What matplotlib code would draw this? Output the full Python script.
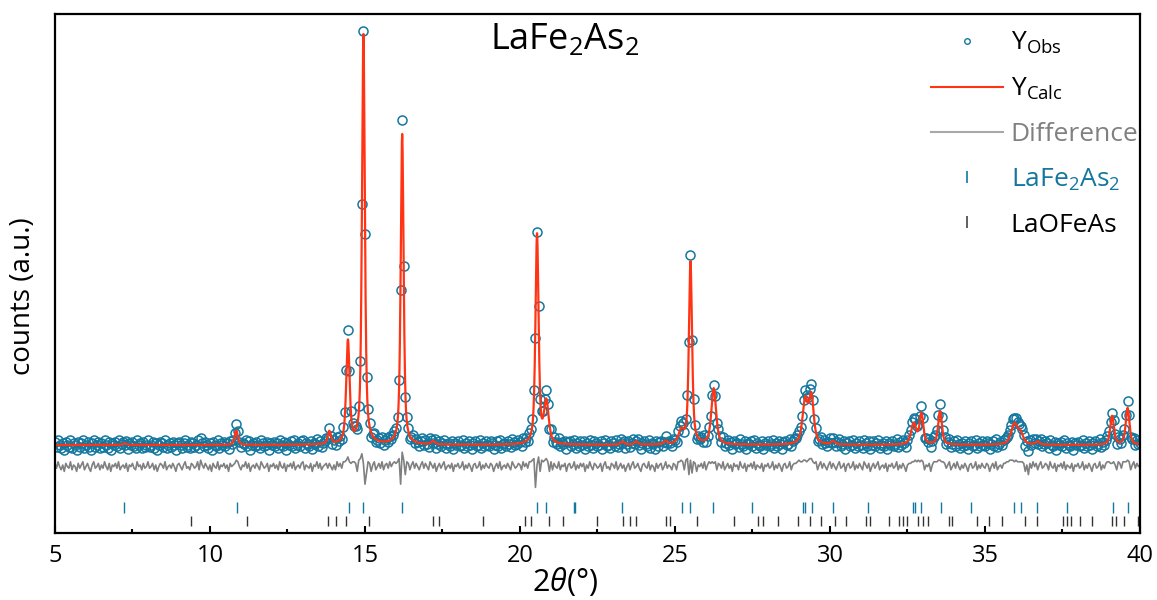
import numpy as np
import matplotlib
matplotlib.use("Agg")
import matplotlib.pyplot as plt
from matplotlib.lines import Line2D

plt.rcParams['font.family'] = ['Open Sans', 'DejaVu Sans']
plt.rcParams['mathtext.fontset'] = 'custom'
plt.rcParams['mathtext.rm'] = 'Open Sans'
plt.rcParams['mathtext.it'] = 'Open Sans:italic'

# ─── data ────────────────────────────────────────────────────────────────────
# Bragg reflections used for the calculated profile (2theta, height, FWHM)
peak_pos    = [7.25, 10.85, 13.85, 14.45, 14.95, 16.20, 17.20, 20.55, 20.85,
               23.30, 23.75, 24.70, 25.20, 25.50, 26.25, 29.20, 29.40, 30.10,
               32.70, 32.95, 33.55, 35.95, 36.15, 36.70, 39.10, 39.60]
peak_height = [1, 9, 8, 64, 256, 194, 2, 131, 26,
               2, 2, 2, 8, 114, 35, 27, 29, 2,
               13, 19, 21, 13, 6, 2, 18, 23]
peak_fwhm   = [0.15, 0.12, 0.12, 0.13, 0.11, 0.11, 0.15, 0.12, 0.18,
               0.15, 0.15, 0.15, 0.20, 0.12, 0.18, 0.20, 0.18, 0.15,
               0.20, 0.14, 0.14, 0.25, 0.20, 0.15, 0.14, 0.14]
background = 60

# Yobs - Ycalc, one value every 0.05 deg from 5.00 to 40.00
residual = [
    2, -1, 3, 0, -2, 1, -3, 2, 0, -1, 3, -2, 1, 0, -3, 2, -1, 1, 3, -2,        # 5
    0, 2, -1, -3, 1, 3, -1, 0, 2, -2, 1, -1, 3, 0, -2, 2, -3, 1, 0, 2,        # 6
    -1, 3, -2, 0, 1, -1, 2, -3, 1, 0, 2, -1, -2, 3, 0, 1, -2, 2, -1, 0,       # 7
    3, -1, 0, 2, -2, 1, -3, 0, 2, 1, -1, 3, -2, 0, 1, -1, 2, 0, -3, 1,        # 8
    2, 0, -2, 1, 3, -1, 0, -2, 2, 1, -1, 0, 3, -2, 4, 1, -1, 2, 0, -2,        # 9
    1, -3, 2, 0, -1, 3, -2, 1, 0, 2, -1, 1, -3, 2, 0, 1, 2, 4, 3, 0,          # 10
    -2, 1, 0, 3, -1, 2, -3, 0, 1, -1, 2, 0, -2, 3, 1, -1, 0, 2, -3, 1,        # 11
    0, 2, -1, 1, -2, 3, 0, -1, 2, -3, 1, 0, 2, -1, 3, -2, 0, 1, -1, 2,        # 12
    3, -2, 1, 0, -1, 2, -3, 1, 0, 3, -1, 2, -2, 0, 1, 2, -1, 2, 0, -2,        # 13
    1, -2, 3, 0, 2, -1, 3, 3, 4, 6, 3, 2, 3, 3, 2, -3, 4, 5, 8, 2,            # 14
    -11, -4, 3, 2, -3, 1, 3, -2, 0, 2, -1, 3, -2, 1, 2, -1, 3, 0, 2, 3,       # 15
    2, 3, 5, -11, 9, 4, -5, 3, 2, -2, 1, 3, -1, 2, 0, -2, 1, 3, -1, 2,        # 16
    0, -2, 3, 1, -1, 2, -3, 0, 2, -1, 1, 3, -2, 0, 1, -1, 2, -3, 1, 0,        # 17
    2, -1, 0, 3, -2, 1, -1, 2, 0, -3, 1, 2, -1, 0, 3, -2, 1, -1, 2, 0,        # 18
    -1, 2, 1, -3, 0, 2, -1, 3, -2, 0, 1, -1, 2, 0, -2, 3, 1, -1, 0, 2,        # 19
    1, -2, 3, 0, 2, -1, 3, 3, 4, 5, -13, 1, 6, -3, 4, 3, 4, 5, 3, -3,         # 20
    3, -2, 2, 0, -1, 3, -2, 1, 0, 2, -3, 1, 2, -1, 0, 3, -2, 1, -1, 2,        # 21
    0, 2, -3, 1, -1, 3, 0, -2, 2, 1, -1, 0, 2, -3, 1, 3, -1, 0, -2, 2,        # 22
    1, -1, 3, -2, 0, 2, -1, 1, -3, 0, 2, -2, 1, 3, -1, 0, 2, -1, -3, 1,       # 23
    2, 0, -1, 3, -2, 1, 0, -3, 2, -1, 1, 2, -2, 0, 3, -1, 1, 0, -2, 2,        # 24
    1, -2, 3, 3, 4, 3, -2, 4, 5, -5, 4, -4, 3, 2, -3, 1, 0, 2, -1, 3,         # 25
    -2, 1, 3, 2, 3, 2, 3, -2, 2, 1, -1, 3, -2, 0, 2, -1, 1, -3, 2, 0,         # 26
    1, -2, 3, 0, -1, 2, -3, 1, 0, 2, -1, 3, -2, 1, 0, -1, 2, -3, 1, 0,        # 27
    2, -1, 0, 3, -2, 1, -1, 2, 0, -3, 1, 2, -1, 0, 3, -2, 1, 2, 2, 3,         # 28
    4, 3, 3, 4, 4, 3, 4, 5, 5, 3, 2, 3, -2, 1, 3, -1, 2, 0, -2, 1,            # 29
    3, -1, 2, 0, -2, 1, 3, -1, 0, 2, -3, 1, 2, -1, 0, 3, -2, 1, -1, 2,        # 30
    0, -2, 3, 1, -1, 2, -3, 0, 2, -1, 1, 3, -2, 0, 1, -1, 2, -3, 1, 0,        # 31
    2, -1, 0, 3, -2, 1, -1, 2, 0, -3, 1, 2, 2, 3, 3, 4, 3, 4, 3, 4,           # 32
    3, -2, 1, 0, 2, -3, 1, 3, 3, 3, 4, 4, 3, 3, 2, -1, 1, 3, -2, 0,           # 33
    2, -1, 3, 0, -2, 1, -1, 2, 0, -3, 1, 2, -1, 0, 3, -2, 1, -1, 2, 0,        # 34
    -1, 2, 1, -3, 0, 2, -1, 3, -2, 0, 1, -1, 2, 2, 3, 3, 4, 4, 4, 3,          # 35
    4, 3, 3, 3, 3, 2, -3, 1, -5, 2, -1, 3, 0, 2, -2, 1, 3, -1, 0, 2,          # 36
    1, -2, 3, 0, -1, 2, -3, 1, 0, 2, -1, 3, -2, 1, 0, -1, 2, -3, 1, 0,        # 37
    2, -1, 0, 3, -2, 1, -1, 2, 0, -3, 1, 2, -1, 0, 3, -2, 1, -1, 2, 3,        # 38
    3, 2, 2, 3, 1, -2, 3, 2, -1, 3, 3, 3, 4, 3, -2, 1, 3, -1, 2, 0,           # 39
    1,                                                                         # 40
]

lafe2as2_refl = [7.24, 10.86, 14.48, 14.95, 16.20, 20.54, 20.83, 21.75, 21.79,
                 23.29, 25.22, 25.48, 26.24, 27.49, 29.14, 29.20, 29.42, 30.11,
                 31.24, 32.69, 32.74, 32.95, 33.57, 34.54, 35.94, 36.15, 36.69,
                 37.65, 39.12, 39.62]
laofeas_refl = [9.38, 11.20, 13.82, 14.06, 14.39, 15.14, 17.18, 17.38, 18.80,
                20.16, 20.34, 20.94, 21.40, 22.47, 23.33, 23.55, 23.74, 24.71,
                24.84, 25.70, 26.90, 27.69, 27.85, 28.33, 28.98, 29.35, 29.71,
                30.16, 30.52, 31.16, 31.29, 31.90, 32.24, 32.35, 32.47, 32.85,
                32.99, 33.17, 33.84, 33.93, 34.75, 35.14, 35.54, 36.29, 36.67,
                37.51, 37.64, 37.76, 38.06, 38.44, 39.09, 39.23, 39.48, 39.95]

BLUE = '#13779f'
RED = '#ff3414'
GRAY = '#808080'


def profile(x):
    """pseudo-Voigt sum over the reflection list"""
    y = np.full_like(x, background, dtype=float)
    eta = 0.6
    for p, h, w in zip(peak_pos, peak_height, peak_fwhm):
        d = (x - p) / (w / 2)
        y += h * (eta / (1 + d**2) + (1 - eta) * np.exp(-np.log(2) * d**2))
    return y


x_obs = np.linspace(5, 40, len(residual))
y_obs = profile(x_obs) + np.array(residual)
x_calc = np.linspace(5, 40, 7001)
y_calc = profile(x_calc)
diff_offset = 46.5

fig = plt.figure(figsize=(11.57, 6.0), dpi=100)
ax = fig.add_axes([0.0475, 0.1117, 0.9378, 0.865])

ax.plot(x_obs, y_obs, ls='none', marker='o', ms=6.5, mfc='none', mec=BLUE, mew=1.1)
ax.plot(x_calc, y_calc, color=RED, lw=1.6)
ax.plot(x_obs, np.array(residual) + diff_offset, color=GRAY, lw=1.2)
ax.vlines(lafe2as2_refl, 17.5, 24.5, color=BLUE, lw=1.0)
ax.vlines(laofeas_refl, 9.4, 15.6, color='#333333', lw=1.0)

ax.set_xlim(5, 40)
ax.set_ylim(5, 329.4)
ax.set_xticks(np.arange(5, 41, 5))
ax.set_xticks(np.arange(7.5, 40, 5), minor=True)
ax.set_yticks([])
ax.tick_params(axis='x', which='major', direction='in', length=5, width=1.5,
               labelsize=17, pad=8)
ax.tick_params(axis='x', which='minor', direction='in', length=3, width=1.5)
for s in ax.spines.values():
    s.set_linewidth(1.6)

ax.set_xlabel(r'2$\mathit{\theta}$(°)', fontsize=22)
ax.xaxis.set_label_coords(0.47, -0.062)
ax.set_ylabel('counts (a.u.)', fontsize=20)
ax.yaxis.set_label_coords(-0.017, 0.457)
ax.text(0.47, 0.985, r'LaFe$_2$As$_2$', transform=ax.transAxes, ha='center',
        va='top', fontsize=26)

handles = [
    Line2D([], [], ls='none', marker='o', ms=4, mfc='none', mec=BLUE, mew=1.0),
    Line2D([], [], color=RED, lw=1.5),
    Line2D([], [], color='#a8a8a8', lw=1.5),
    Line2D([], [], ls='none', marker='|', ms=8, mec=BLUE, mew=1.2),
    Line2D([], [], ls='none', marker='|', ms=8, mec='#444444', mew=1.2),
]
labels = [r'Y$_{\mathrm{Obs}}$', r'Y$_{\mathrm{Calc}}$', 'Difference',
          r'LaFe$_2$As$_2$', 'LaOFeAs']
leg = ax.legend(handles, labels, loc='upper right', bbox_to_anchor=(1.013, 1.0),
                frameon=False, fontsize=19, handlelength=2.7, handletextpad=0.3,
                labelspacing=0.75, borderaxespad=0.2)
for t, c in zip(leg.get_texts(), ['black', 'black', GRAY, BLUE, 'black']):
    t.set_color(c)

plt.savefig('out.png', dpi=100)
